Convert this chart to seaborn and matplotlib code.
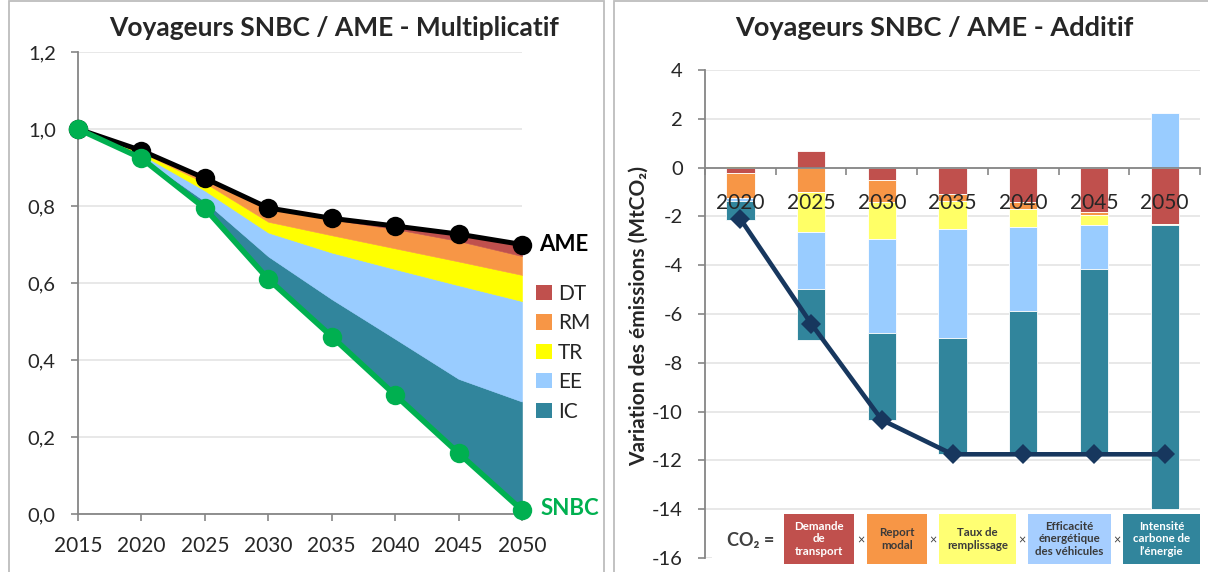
import numpy as np
import matplotlib
matplotlib.use("Agg")
import matplotlib.pyplot as plt
from matplotlib.patches import Rectangle, Patch
import seaborn as sns

# ---- Multiplicative decomposition (index, 2015 = 1) ----
years = [2015, 2020, 2025, 2030, 2035, 2040, 2045, 2050]
snbc = [1.000, 0.924, 0.794, 0.610, 0.461, 0.309, 0.158, 0.010]
ame = [1.000, 0.944, 0.872, 0.795, 0.768, 0.748, 0.727, 0.700]
ic_mult = [0.0, 0.004, 0.018, 0.059, 0.097, 0.146, 0.193, 0.282]
ee_mult = [0.0, 0.006, 0.028, 0.062, 0.121, 0.181, 0.243, 0.261]
tr_mult = [0.0, 0.005, 0.020, 0.028, 0.045, 0.054, 0.062, 0.068]
rm_mult = [0.0, 0.005, 0.012, 0.036, 0.041, 0.050, 0.053, 0.049]
dt_mult = [0.0, 0.000, 0.000, 0.000, 0.003, 0.008, 0.018, 0.030]
y_ticks_mult = [0.0, 0.2, 0.4, 0.6, 0.8, 1.0, 1.2]

# ---- Additive decomposition (MtCO2) ----
periods = ["2020", "2025", "2030", "2035", "2040", "2045", "2050"]
dt_add = [-0.23, 0.68, -0.50, -1.09, -1.43, -1.84, -2.32]
rm_add = [-1.00, -0.98, -0.93, -0.28, -0.28, -0.10, 0.00]
tr_add = [0.05, -1.64, -1.48, -1.13, -0.72, -0.41, -0.03]
ee_add = [-0.14, -2.34, -3.87, -4.47, -3.44, -1.82, 2.25]
ic_add = [-0.78, -2.11, -3.56, -4.78, -5.88, -7.58, -11.65]
y_ticks_add = list(range(-16, 5, 2))

factor_names = ["DT", "RM", "TR", "EE", "IC"]

RED, ORANGE, YELLOW, BLUE, TEAL = "#C0504D", "#F79646", "#FFFF00", "#99CCFF", "#31859C"
YELLOW_BAR = "#FFFF66"
GREEN, NAVY, AXIS_GREY, GRID = "#00B050", "#17375E", "#868686", "#e4e4e4"

sns.set_theme(style="white")
plt.rcParams["font.family"] = ["Lato", "DejaVu Sans"]
plt.rcParams["axes.unicode_minus"] = False

W, H = 1208, 572
fig = plt.figure(figsize=(W / 100, H / 100), dpi=100)


def fx(px):
    return px / W


def fy(py):
    return 1 - py / H


# ================= left panel =================
ax1 = fig.add_axes([fx(78), fy(514), fx(522) - fx(78), fy(52) - fy(514)])

base = np.array(snbc, dtype=float)
for vals, col in [(ic_mult, TEAL), (ee_mult, BLUE), (tr_mult, YELLOW),
                  (rm_mult, ORANGE), (dt_mult, RED)]:
    top = base + np.array(vals)
    ax1.fill_between(years, base, top, color=col, lw=0.4, edgecolor=col, zorder=1)
    base = top

sns.lineplot(x=years, y=ame, ax=ax1, color="black", lw=3.6, marker="o",
             markersize=14, markeredgewidth=0, markeredgecolor="black",
             clip_on=False, zorder=4)
sns.lineplot(x=years, y=snbc, ax=ax1, color=GREEN, lw=4, marker="o",
             markersize=14, markeredgewidth=0, markeredgecolor=GREEN,
             clip_on=False, zorder=5)

ax1.set_xlim(2015, 2050)
ax1.set_ylim(0, 1.2)
ax1.set_xticks(years)
ax1.set_xticklabels([str(y) for y in years])
ax1.set_yticks(y_ticks_mult)
ax1.set_yticklabels([f"{v:.1f}".replace(".", ",") for v in y_ticks_mult])
ax1.set_xlabel("")
ax1.set_ylabel("")
ax1.yaxis.grid(True, color=GRID, lw=1.2)
ax1.set_axisbelow(True)
for s in ["top", "right"]:
    ax1.spines[s].set_visible(False)
for s in ["left", "bottom"]:
    ax1.spines[s].set_color(AXIS_GREY)
    ax1.spines[s].set_linewidth(1.3)
ax1.tick_params(axis="x", bottom=True, direction="out", length=5, width=1.2,
                color=AXIS_GREY, labelsize=15, pad=11)
ax1.tick_params(axis="y", left=True, direction="out", length=5, width=1.2,
                color=AXIS_GREY, labelsize=14.5, pad=11)

ax1.annotate("AME", xy=(2050, ame[-1]), xytext=(12, 0), textcoords="offset points",
             ha="left", va="center", fontsize=16, fontweight="bold",
             color="black", annotation_clip=False)
ax1.annotate("SNBC", xy=(2050, snbc[-1]), xytext=(13, 1), textcoords="offset points",
             ha="left", va="center", fontsize=16, fontweight="bold",
             color=GREEN, annotation_clip=False)

handles = [Patch(facecolor=c, edgecolor="none") for c in [RED, ORANGE, YELLOW, BLUE, TEAL]]
ax1.legend(handles, factor_names, loc="upper left",
           bbox_to_anchor=(fx(536), fy(284)), bbox_transform=fig.transFigure,
           frameon=False, fontsize=15, handlelength=0.75, handleheight=0.75,
           handletextpad=0.3, labelspacing=0.45, borderpad=0, borderaxespad=0)

# ================= right panel =================
ax2 = fig.add_axes([fx(705), fy(558), fx(1200) - fx(705), fy(70) - fy(558)])

x = np.arange(len(periods))
pos_base = np.zeros(len(periods))
neg_base = np.zeros(len(periods))
for vals, col in [(dt_add, RED), (rm_add, ORANGE), (tr_add, YELLOW_BAR),
                  (ee_add, BLUE), (ic_add, TEAL)]:
    v = np.array(vals, dtype=float)
    bottom = np.where(v >= 0, pos_base, neg_base)
    ax2.bar(x, v, bottom=bottom, width=0.4, color=col, edgecolor="white",
            linewidth=0.6, zorder=2)
    pos_base += np.clip(v, 0, None)
    neg_base += np.clip(v, None, 0)

total = np.sum([dt_add, rm_add, tr_add, ee_add, ic_add], axis=0)
sns.lineplot(x=x, y=total, ax=ax2, color=NAVY, lw=3.3, marker="D",
             markersize=10, markeredgewidth=0, markeredgecolor=NAVY, zorder=4)

ax2.set_xlim(-0.5, len(periods) - 0.5)
ax2.set_ylim(-16, 4)
ax2.set_yticks(y_ticks_add)
ax2.set_yticklabels([str(v) for v in y_ticks_add])
ax2.set_xticks(np.arange(-0.5, len(periods), 1.0))
ax2.set_xticklabels([])
ax2.set_xticks(x, minor=True)
ax2.set_xticklabels(periods, minor=True)
ax2.set_xlabel("")
ax2.set_ylabel("")
ax2.yaxis.grid(True, color=GRID, lw=1.2)
ax2.set_axisbelow(True)
# category labels sit on top of the bars; horizontal grid stays beneath them
ax2.xaxis.set_zorder(3)
for s in ["top", "right"]:
    ax2.spines[s].set_visible(False)
ax2.spines["bottom"].set_position(("data", 0))
for s in ["left", "bottom"]:
    ax2.spines[s].set_color(AXIS_GREY)
    ax2.spines[s].set_linewidth(1.3)
ax2.tick_params(axis="x", which="major", bottom=True, direction="out", length=5,
                width=1.2, color=AXIS_GREY)
ax2.tick_params(axis="x", which="minor", bottom=True, length=0, labelsize=15,
                pad=18, labelbottom=True)
ax2.tick_params(axis="y", left=True, direction="out", length=5, width=1.2,
                color=AXIS_GREY, labelsize=14.5, pad=11)

fig.text(fx(639), fy(316), "Variation des émissions (MtCO₂)", rotation=90,
         ha="center", va="center", fontsize=15, fontweight="bold")

# ---- titles ----
fig.text(fx(334), fy(36), "Voyageurs SNBC / AME - Multiplicatif", ha="center",
         va="baseline", fontsize=19, fontweight="bold")
fig.text(fx(934), fy(36), "Voyageurs SNBC / AME - Additif", ha="center",
         va="baseline", fontsize=19.5, fontweight="bold")

# ---- CO2 identity banner ----
fig.add_artist(Rectangle((fx(712), fy(571)), fx(1207) - fx(712), fy(511) - fy(571),
                         transform=fig.transFigure, facecolor="white",
                         edgecolor="none", zorder=2))
fig.text(fx(751), fy(541), "CO₂ =", ha="center", va="center", fontsize=13,
         fontweight="bold", color="#404040", zorder=4)
banner = [
    ("Demande\nde\ntransport", RED, "white", 784, 854),
    ("Report\nmodal", ORANGE, "#3a3a3a", 867, 927),
    ("Taux de\nremplissage", "#FFFF73", "#3a3a3a", 939, 1016),
    ("Efficacité\nénergétique\ndes véhicules", "#A6CEFF", "#3a3a3a", 1028, 1111),
    ("Intensité\ncarbone de\nl’énergie", TEAL, "white", 1123, 1200),
]
for label, fc, tc, x0, x1 in banner:
    fig.add_artist(Rectangle((fx(x0), fy(564)), fx(x1) - fx(x0), fy(514) - fy(564),
                             transform=fig.transFigure, facecolor=fc,
                             edgecolor="none", zorder=3))
    fig.text(fx((x0 + x1) / 2), fy(539), label, ha="center", va="center",
             fontsize=8.3, fontweight="bold", color=tc, linespacing=1.2, zorder=4)
for xm in [861, 933, 1022, 1117]:
    fig.text(fx(xm), fy(540), "×", ha="center", va="center", fontsize=9,
             color="#404040", zorder=4)

# ---- panel frames ----
for x0, x1 in [(9, 604), (614, 1215)]:
    fig.add_artist(Rectangle((fx(x0), fy(580)), fx(x1) - fx(x0), fy(1) - fy(580),
                             transform=fig.transFigure, fill=False,
                             edgecolor="#bdbdbd", lw=1.3, zorder=1))

fig.savefig("out.png", dpi=100)
